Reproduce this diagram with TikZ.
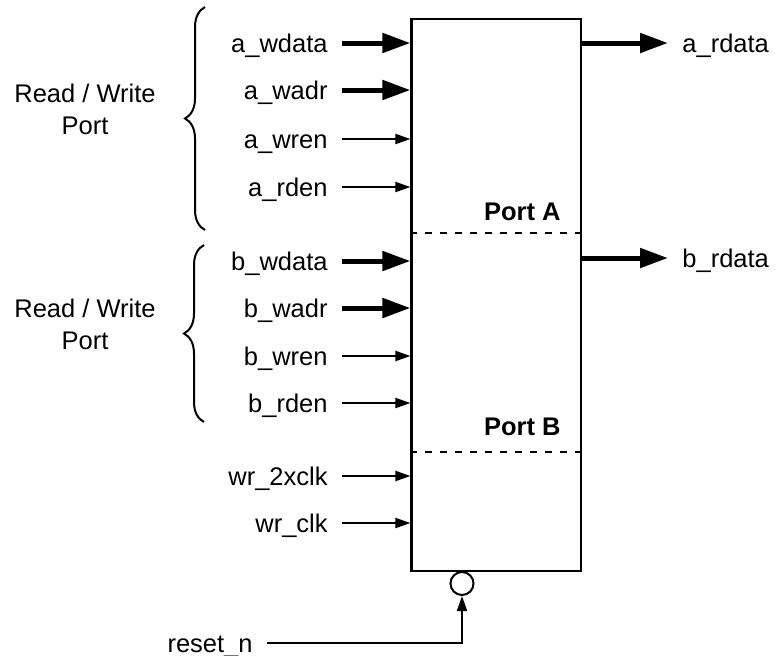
\documentclass[tikz,border=0pt]{standalone}
\usepackage{fontspec}
\setmainfont{Liberation Sans}
\usetikzlibrary{arrows.meta,decorations.pathreplacing}

\begin{document}
\begin{tikzpicture}[x=0.5pt,y=-0.5pt,>=Stealth, every node/.style={font=\fontsize{12.75pt}{16pt}\selectfont}]
    \tikzset{sig/.style={text height=9.5pt,text depth=0pt,inner xsep=7pt,inner ysep=0pt}}
    \tikzset{portlbl/.style={font=\fontsize{12.75pt}{16pt}\selectfont\bfseries,inner sep=0pt,anchor=base east}}
    \tikzset{bus/.style={line width=2.5pt,-{Triangle[length=14pt,width=9.5pt]}}}
    \tikzset{wire/.style={line width=1pt,-{Triangle[length=7.5pt,width=5pt]}}}
    \tikzset{divider/.style={line width=1pt,dash pattern=on 3.5pt off 4pt}}
    \tikzset{grp/.style={line width=1pt,decorate,decoration={brace,amplitude=10pt}}}
    \useasboundingbox (0,0) rectangle (775,655);

    % memory block
    \node[draw,line width=1.1pt,minimum width=84.75pt,minimum height=276pt,inner sep=0pt] (ram) at (496.25,295) {};
    \coordinate (divA) at (0,233);
    \coordinate (divB) at (0,452);
    \draw[divider] (ram.west |- divA) -- (ram.east |- divA);
    \draw[divider] (ram.west |- divB) -- (ram.east |- divB);
    \node[portlbl] (porta) at (561,220) {Port A};
    \node[portlbl] (portb) at (561,435) {Port B};

    % Port A (read / write)
    \node[sig,anchor=east] (awdata) at (342,43) {a\_wdata};
    \node[sig,anchor=east] (awadr) at (342,90) {a\_wadr};
    \node[sig,anchor=east] (awren) at (342,139) {a\_wren};
    \node[sig,anchor=east] (arden) at (342,187) {a\_rden};
    \draw[bus] (awdata.east) -- (awdata.east -| ram.west);
    \draw[bus] (awadr.east) -- (awadr.east -| ram.west);
    \draw[wire] (awren.east) -- (awren.east -| ram.west);
    \draw[wire] (arden.east) -- (arden.east -| ram.west);
    \draw[grp] (205,230) -- (205,7);
    \node[align=center] (rwa) at (85,109) {Read / Write\\Port};

    % Port B (read / write)
    \node[sig,anchor=east] (bwdata) at (342,261) {b\_wdata};
    \node[sig,anchor=east] (bwadr) at (342,308) {b\_wadr};
    \node[sig,anchor=east] (bwren) at (342,356) {b\_wren};
    \node[sig,anchor=east] (brden) at (342,403) {b\_rden};
    \draw[bus] (bwdata.east) -- (bwdata.east -| ram.west);
    \draw[bus] (bwadr.east) -- (bwadr.east -| ram.west);
    \draw[wire] (bwren.east) -- (bwren.east -| ram.west);
    \draw[wire] (brden.east) -- (brden.east -| ram.west);
    \draw[grp] (204,422) -- (204,245);
    \node[align=center] (rwb) at (85,324) {Read / Write\\Port};

    % clocks
    \node[sig,anchor=east] (wrxclk) at (342,476) {wr\_2xclk};
    \node[sig,anchor=east] (wrclk) at (342,523) {wr\_clk};
    \draw[wire] (wrxclk.east) -- (wrxclk.east -| ram.west);
    \draw[wire] (wrclk.east) -- (wrclk.east -| ram.west);

    % read data out
    \node[sig,anchor=west] (ardata) at (668,43) {a\_rdata};
    \node[sig,anchor=west] (brdata) at (668,258) {b\_rdata};
    \draw[bus] (ardata.west -| ram.east) -- (ardata.west);
    \draw[bus] (brdata.west -| ram.east) -- (brdata.west);

    % active-low reset
    \node[draw,circle,line width=1pt,minimum size=11.5pt,inner sep=0pt] (inv) at (462,583.5) {};
    \node[sig,anchor=east] (reset) at (267,643) {reset\_n};
    \draw[wire] (reset.east) -- (reset.east -| inv.south) -- (inv.south);
\end{tikzpicture}
\end{document}
